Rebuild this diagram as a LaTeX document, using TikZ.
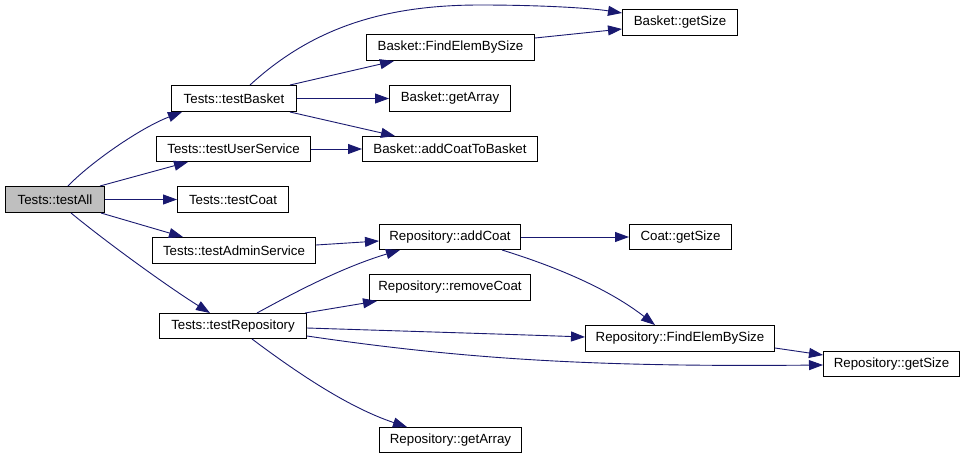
\documentclass[tikz,border=0pt]{standalone}
\usepackage{fontspec}
\setmainfont{Liberation Sans}
\usetikzlibrary{arrows.meta,calc}
\definecolor{edgeblue}{HTML}{191970}
\definecolor{rootgrey}{HTML}{BFBFBF}
\begin{document}
\begin{tikzpicture}[x=1pt,y=-1pt,
  fn/.style={draw=black,line width=1pt,fill=white,anchor=north west,inner sep=0pt,
    font=\fontsize{13.3}{16}\selectfont,text=black},
  root/.style={fn,fill=rootgrey},
  call/.style={draw=edgeblue,line width=0.9pt,
    -{Triangle[length=14pt,width=10pt,fill=edgeblue]}}]
\useasboundingbox[fill=white] (0,0) rectangle (964,458);

% functions
\node[root,minimum width=99pt,minimum height=26pt] (testAll) at (5,186) {Tests::testAll};
\node[fn,minimum width=125pt,minimum height=26pt] (testBasket) at (171,85) {Tests::testBasket};
\node[fn,minimum width=154pt,minimum height=25pt] (testUser) at (156,136) {Tests::testUserService};
\node[fn,minimum width=111pt,minimum height=26pt] (testCoat) at (177,186) {Tests::testCoat};
\node[fn,minimum width=163pt,minimum height=26pt] (testAdmin) at (152,237) {Tests::testAdminService};
\node[fn,minimum width=147pt,minimum height=25pt] (testRepo) at (159,313) {Tests::testRepository};
\node[fn,minimum width=168pt,minimum height=26pt] (bFind) at (366,34) {Basket::FindElemBySize};
\node[fn,minimum width=121pt,minimum height=26pt] (bArray) at (389,85) {Basket::getArray};
\node[fn,minimum width=175pt,minimum height=25pt] (bAdd) at (362,136) {Basket::addCoatToBasket};
\node[fn,minimum width=115pt,minimum height=26pt] (bSize) at (622,9) {Basket::getSize};
\node[fn,minimum width=141pt,minimum height=25pt] (rAdd) at (379,224) {Repository::addCoat};
\node[fn,minimum width=161pt,minimum height=26pt] (rRemove) at (369,274) {Repository::removeCoat};
\node[fn,minimum width=142pt,minimum height=25pt] (rArray) at (379,427) {Repository::getArray};
\node[fn,minimum width=102pt,minimum height=25pt] (cSize) at (629,224) {Coat::getSize};
\node[fn,minimum width=189pt,minimum height=26pt] (rFind) at (585,325) {Repository::FindElemBySize};
\node[fn,minimum width=136pt,minimum height=25pt] (rSize) at (823,351) {Repository::getSize};

% calls from Tests::testAll
\draw[call] ($(testAll.north west)+(63,0)$) .. controls (90,163) and (140,128) .. ($(testBasket.south west)+(11,0)$);
\draw[call] ($(testAll.north west)+(95,0)$) -- ($(testUser.south west)+(32,0)$);
\draw[call] (testAll.east) -- (testCoat.west);
\draw[call] ($(testAll.south west)+(96,0)$) -- ($(testAdmin.north west)+(31,0)$);
\draw[call] ($(testAll.south west)+(66,0)$) .. controls (110,245) and (170,288) .. ($(testRepo.north west)+(51,0)$);

% calls from Tests::testBasket
\draw[call] ($(testBasket.north west)+(79,0)$) .. controls (310,30) and (380,5) .. (480,5)
  .. controls (540,5) and (590,8) .. ($(bSize.north west)+(0,4)$);
\draw[call] ($(testBasket.north west)+(119,0)$) -- ($(bFind.south west)+(28,0)$);
\draw[call] (testBasket.east) -- (bArray.west);
\draw[call] ($(testBasket.south west)+(119,0)$) -- ($(bAdd.north west)+(33,0)$);
\draw[call] ($(bFind.north east)+(0,4)$) -- ($(bSize.north west)+(0,20)$);

% calls from Tests::testUserService and Tests::testAdminService
\draw[call] (testUser.east) -- (bAdd.west);
\draw[call] ($(testAdmin.north east)+(0,8)$) -- ($(rAdd.north west)+(0,17)$);

% calls from Tests::testRepository
\draw[call] ($(testRepo.north west)+(98,0)$) .. controls (290,295) and (340,268) .. ($(rAdd.south west)+(21,0)$);
\draw[call] ($(testRepo.north west)+(146,0)$) -- ($(rRemove.south west)+(8,0)$);
\draw[call] ($(testRepo.north east)+(0,15)$) .. controls (400,331) and (500,334) .. ($(rFind.north west)+(0,12)$);
\draw[call] ($(testRepo.north east)+(0,23)$) .. controls (470,360) and (600,367) .. ($(rSize.north west)+(0,14)$);
\draw[call] ($(testRepo.south west)+(93,0)$) .. controls (300,375) and (350,408) .. ($(rArray.north west)+(28,0)$);

% calls from Repository methods
\draw[call] (rAdd.east) -- (cSize.west);
\draw[call] ($(rAdd.south west)+(123,0)$) .. controls (560,268) and (610,290) .. ($(rFind.north west)+(70,0)$);
\draw[call] ($(rFind.north east)+(0,23)$) -- ($(rSize.north west)+(0,4)$);
\end{tikzpicture}
\end{document}
